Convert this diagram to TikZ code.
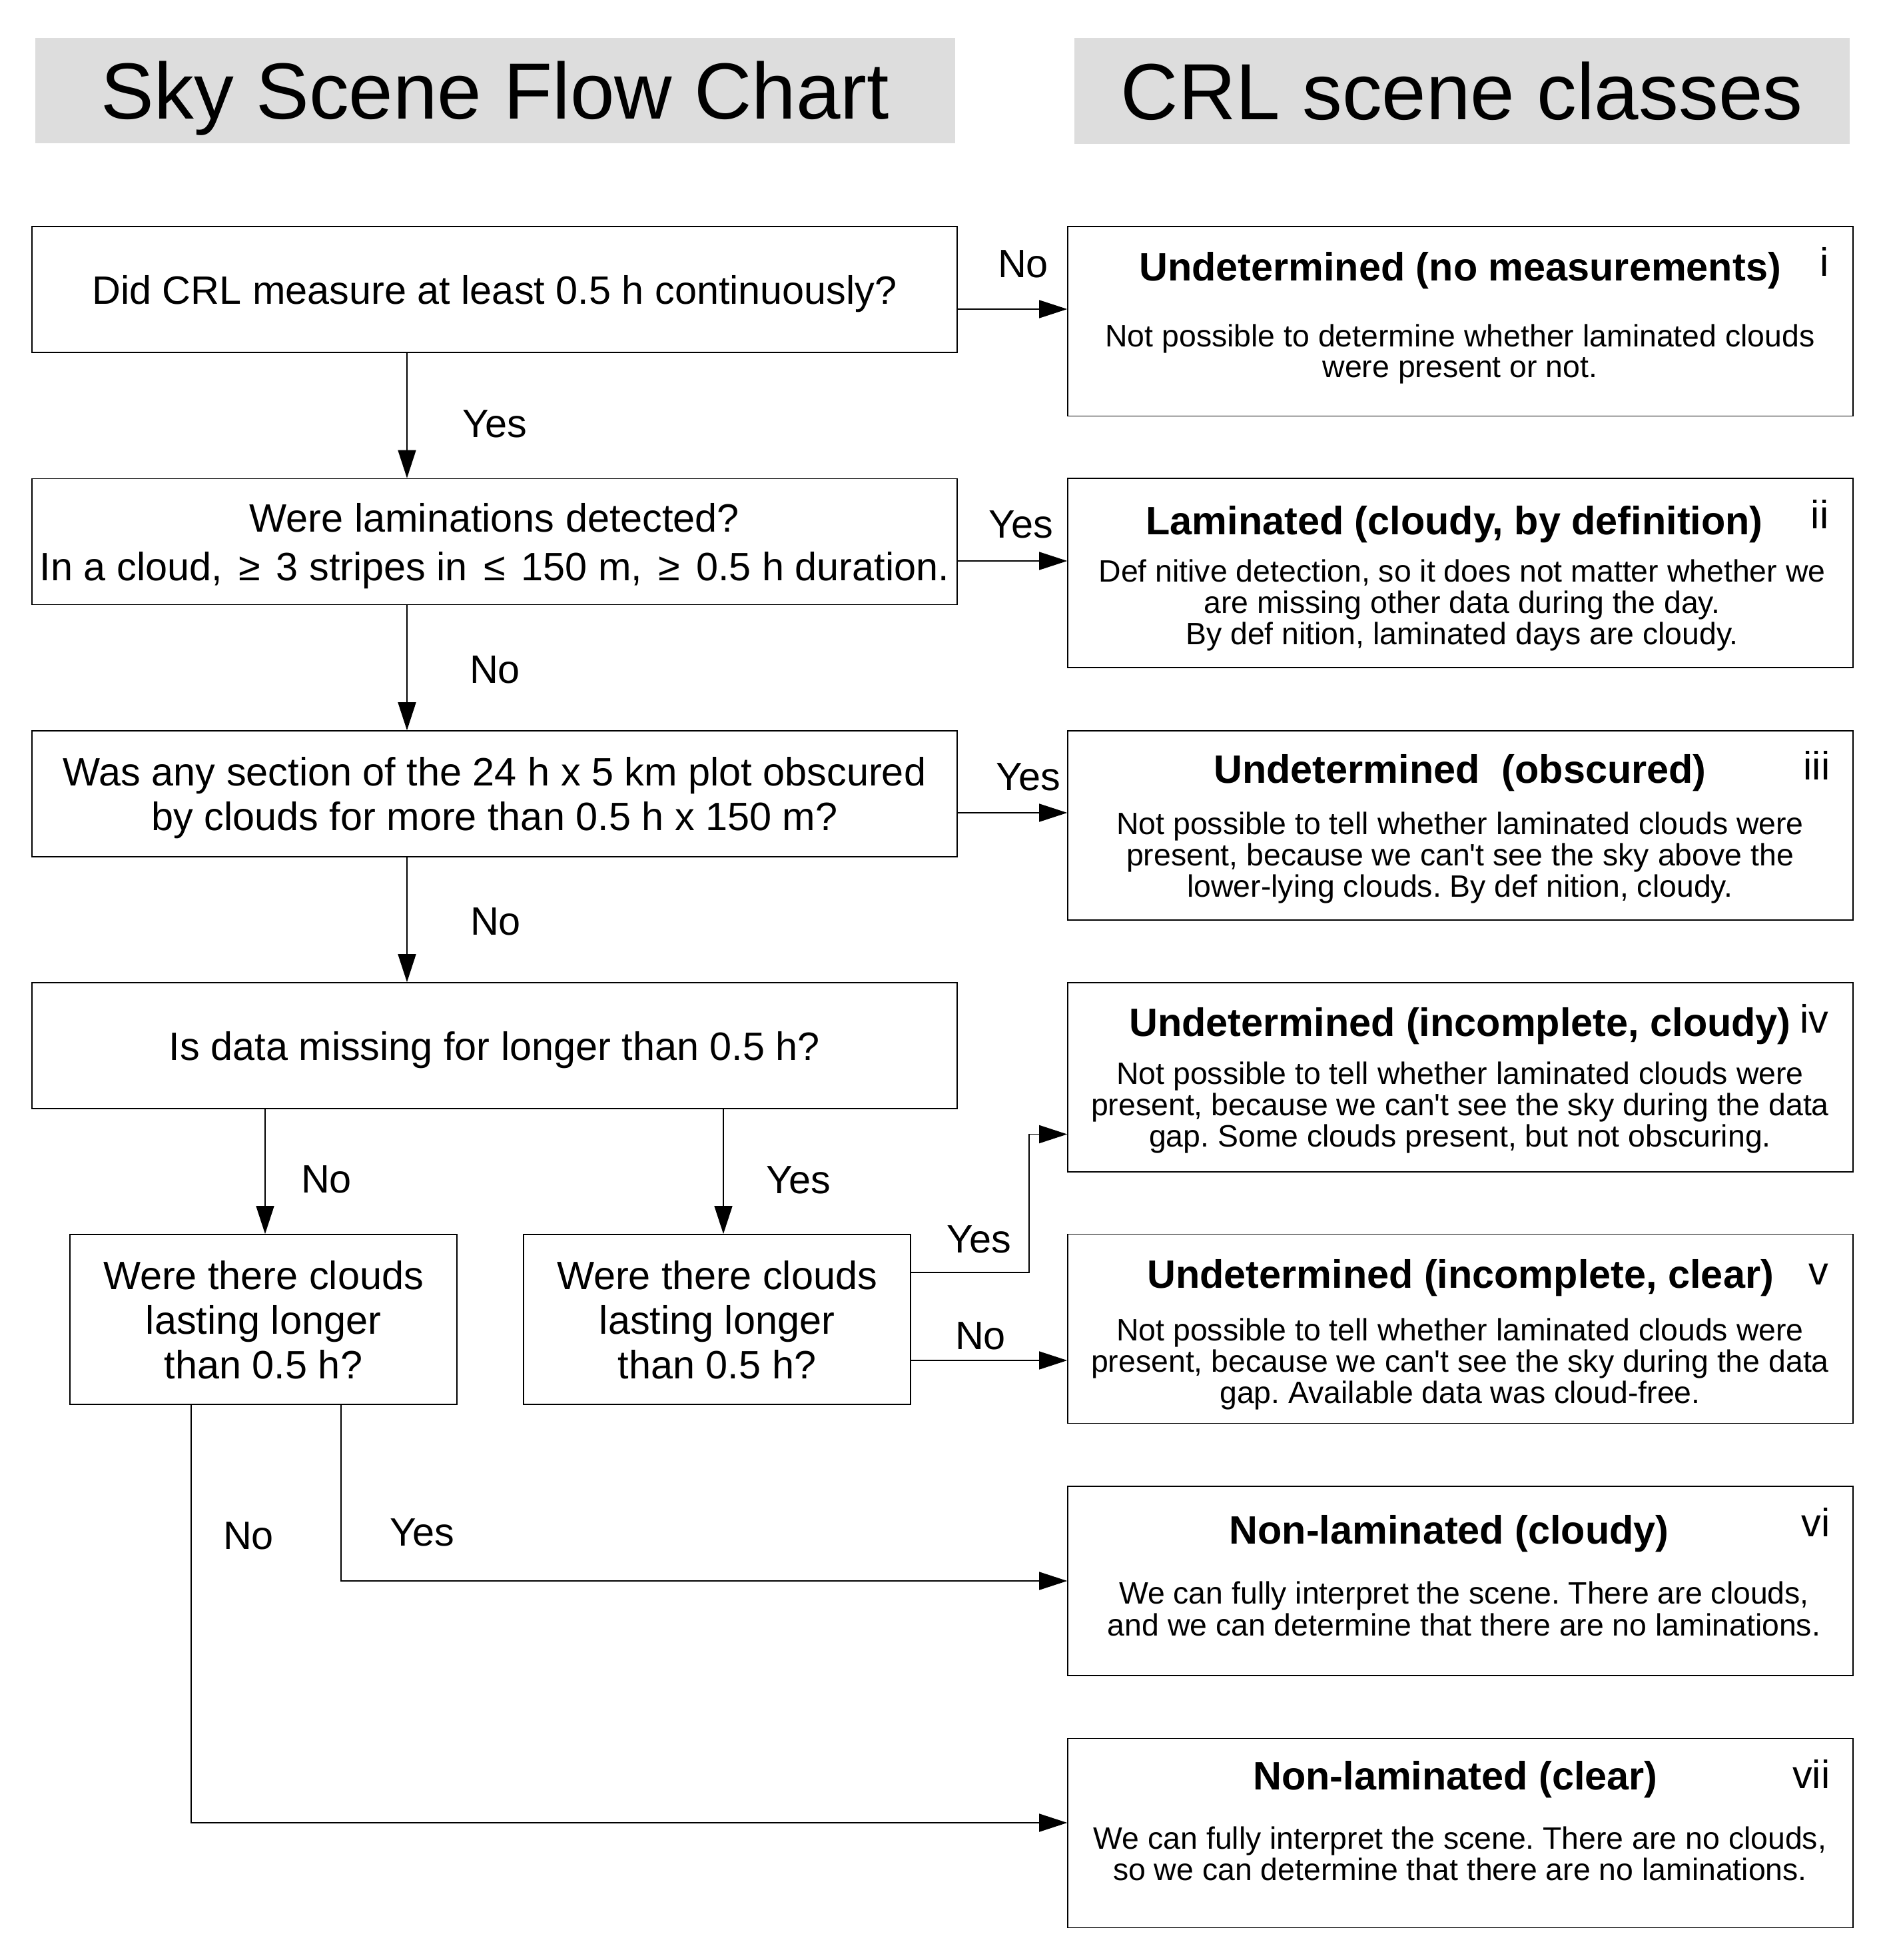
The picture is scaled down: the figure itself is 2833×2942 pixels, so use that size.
\documentclass[tikz,border=0pt]{standalone}
\usepackage{fontspec}
\setmainfont{Liberation Sans}
\usetikzlibrary{arrows.meta}
\definecolor{titlegray}{RGB}{221,221,221}
\newcommand{\mylines}[1]{\begin{tabular}[t]{@{}c@{}}#1\end{tabular}}
\newcommand{\relsym}[1]{\hspace{1.9pt}#1\hspace{1.9pt}}
\begin{document}
\frenchspacing
\begin{tikzpicture}[x=0.25pt,y=-0.25pt,
  ttl/.style={fill=titlegray, inner sep=0pt, font=\fontsize{29.9}{36}\selectfont, text height=21.4pt, text depth=0pt},
  qbox/.style={draw, line width=0.4pt, minimum width=347.25pt, minimum height=47.25pt, align=center, inner sep=0pt, text depth=0pt, font=\fontsize{14.85}{16.75}\selectfont},
  sbox/.style={qbox, minimum width=145.25pt, minimum height=63.75pt},
  rbox/.style={draw, line width=0.4pt, minimum width=294.75pt, minimum height=71pt, inner sep=0pt},
  rtitle/.style={anchor=base, inner sep=0pt, font=\bfseries\fontsize{14.85}{17}\selectfont},
  rnum/.style={anchor=base east, inner sep=0pt, font=\fontsize{14.85}{17}\selectfont},
  rbody/.style={anchor=base, inner sep=0pt, font=\fontsize{11.6}{11.5}\selectfont},
  lbl/.style={anchor=base, inner sep=0pt, font=\fontsize{14.85}{17}\selectfont},
  conn/.style={line width=0.4pt, -{Triangle[length=10.5pt, width=6.75pt]}}
]
\useasboundingbox (0,0) rectangle (2833,2942);

% titles
\node[ttl, minimum width=345.35pt, minimum height=39.7pt] (t1) at (743.3,136) {Sky Scene Flow Chart};
\node[ttl, minimum width=290.9pt, minimum height=39.65pt] (t2) at (2194.75,136.3) {CRL scene classes};

% question boxes
\node[qbox] (q1) at (742.5,434.5) {Did CRL measure at least 0.5 h continuously?};
\node[qbox, font=\fontsize{14.85}{18.25}\selectfont] (q2) at (742.5,813) {Were laminations detected?\\In a cloud, \relsym{≥} 3 stripes in \relsym{≤} 150 m, \relsym{≥} 0.5 h duration.};
\node[qbox] (q3) at (742.5,1191.5) {Was any section of the 24 h x 5 km plot obscured\\by clouds for more than 0.5 h x 150 m?};
\node[qbox] (q4) at (742.5,1569.5) {Is data missing for longer than 0.5 h?};
\node[sbox] (s1) at (395.5,1980.5) {Were there clouds\\lasting longer\\than 0.5 h?};
\node[sbox] (s2) at (1076.5,1980.5) {Were there clouds\\lasting longer\\than 0.5 h?};

% result boxes
\node[rbox] (r1) at (2192.5,482.3) {};
\node[rbox] (r2) at (2192.5,860) {};
\node[rbox] (r3) at (2192.5,1239) {};
\node[rbox] (r4) at (2192.5,1617) {};
\node[rbox] (r5) at (2192.5,1994.5) {};
\node[rbox] (r6) at (2192.5,2373) {};
\node[rbox] (r7) at (2192.5,2751.5) {};

% result texts
\node[rtitle] (r1t) at (2192,421.8) {Undetermined (no measurements)};
\node[rnum] (r1n) at (2746,415) {i};
\node[rbody] (r1b) at (2192,520) {\mylines{Not possible to determine whether laminated clouds\\were present or not.}};

\node[rtitle] (r2t) at (2183.5,802) {Laminated (cloudy, by definition)};
\node[rnum] (r2n) at (2746,793) {ii};
\node[rbody] (r2b) at (2195,873) {\mylines{Def nitive detection, so it does not matter whether we\\are missing other data during the day.\\By def nition, laminated days are cloudy.}};

\node[rtitle] (r3t) at (2192,1175.5) {Undetermined\ \ (obscured)};
\node[rnum] (r3n) at (2748,1170) {iii};
\node[rbody] (r3b) at (2192,1252) {\mylines{Not possible to tell whether laminated clouds were\\present, because we can\textquotesingle t see the sky above the\\lower-lying clouds. By def nition, cloudy.}};

\node[rtitle] (r4t) at (2192,1555.6) {Undetermined (incomplete, cloudy)};
\node[rnum] (r4n) at (2746,1550.5) {iv};
\node[rbody] (r4b) at (2192,1627) {\mylines{Not possible to tell whether laminated clouds were\\present, because we can\textquotesingle t see the sky during the data\\gap. Some clouds present, but not obscuring.}};

\node[rtitle] (r5t) at (2192.6,1933) {Undetermined (incomplete, clear)};
\node[rnum] (r5n) at (2746,1928) {v};
\node[rbody] (r5b) at (2192,2012) {\mylines{Not possible to tell whether laminated clouds were\\present, because we can\textquotesingle t see the sky during the data\\gap. Available data was cloud-free.}};

\node[rtitle] (r6t) at (2175.6,2317.7) {Non-laminated (cloudy)};
\node[rnum] (r6n) at (2748,2306.6) {vi};
\node[rbody] (r6b) at (2198,2407.6) {\mylines{We can fully interpret the scene. There are clouds,\\and we can determine that there are no laminations.}};

\node[rtitle] (r7t) at (2185,2686.4) {Non-laminated (clear)};
\node[rnum] (r7n) at (2748,2684) {vii};
\node[rbody] (r7b) at (2192,2775) {\mylines{We can fully interpret the scene. There are no clouds,\\so we can determine that there are no laminations.}};

% helper coordinates
\coordinate (h1) at (0,464);
\coordinate (h2) at (0,842);
\coordinate (h3) at (0,1220);
\coordinate (h4) at (0,1702.5);
\coordinate (h5) at (0,1910);
\coordinate (h6) at (0,2042);
\coordinate (h7) at (0,2373);
\coordinate (h8) at (0,2736);
\coordinate (vx) at (611,0);
\coordinate (vl) at (398,0);
\coordinate (vr) at (1086,0);
\coordinate (vb) at (1545,0);
\coordinate (vy) at (512,0);
\coordinate (vn) at (287,0);

% connectors
\draw[conn] (q1.east|-h1) -- (r1.west|-h1);
\draw[conn] (q1.south-|vx) -- (q2.north-|vx);
\draw[conn] (q2.east|-h2) -- (r2.west|-h2);
\draw[conn] (q2.south-|vx) -- (q3.north-|vx);
\draw[conn] (q3.east|-h3) -- (r3.west|-h3);
\draw[conn] (q3.south-|vx) -- (q4.north-|vx);
\draw[conn] (q4.south-|vl) -- (s1.north-|vl);
\draw[conn] (q4.south-|vr) -- (s2.north-|vr);
\draw[conn] (s2.east|-h5) -| (vb|-h4) -- (r4.west|-h4);
\draw[conn] (s2.east|-h6) -- (r5.west|-h6);
\draw[conn] (s1.south-|vy) |- (r6.west|-h7);
\draw[conn] (s1.south-|vn) |- (r7.west|-h8);

% connector labels
\node[lbl] (l1) at (1536,417) {No};
\node[lbl] (l2) at (743,656) {Yes};
\node[lbl] (l3) at (1533,807) {Yes};
\node[lbl] (l4) at (743,1025) {No};
\node[lbl] (l5) at (1544,1186) {Yes};
\node[lbl] (l6) at (744,1403) {No};
\node[lbl] (l7) at (490,1790) {No};
\node[lbl] (l8) at (1199,1791) {Yes};
\node[lbl] (l9) at (1470,1880) {Yes};
\node[lbl] (l10) at (1472,2025) {No};
\node[lbl] (l11) at (373,2325.5) {No};
\node[lbl] (l12) at (634,2320) {Yes};
\end{tikzpicture}
\end{document}
